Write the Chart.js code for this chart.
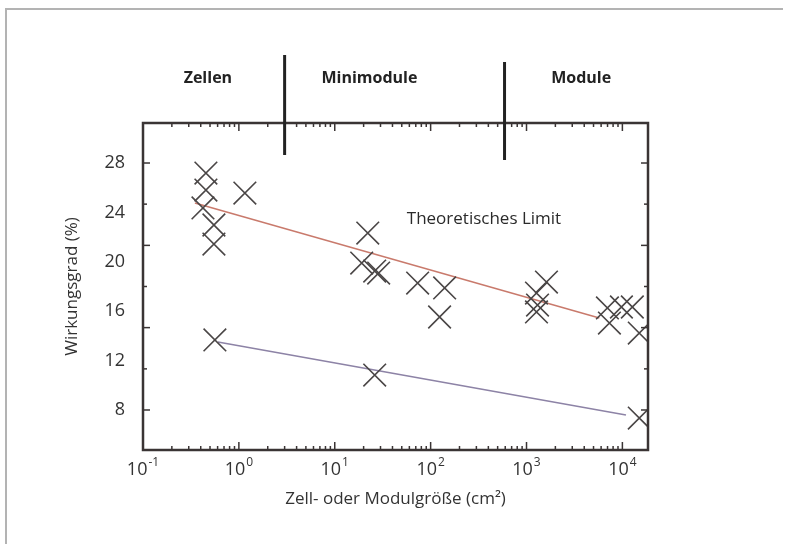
<!DOCTYPE html>
<html lang="de">
<head>
<meta charset="utf-8">
<title>Wirkungsgrad vs. Zell- oder Modulgröße</title>
<script src="https://cdn.jsdelivr.net/npm/chart.js@4.4.1/dist/chart.umd.min.js"></script>
<style>
    body { margin: 0; background: #fff; }
    .wrap { position: relative; width: 787px; height: 544px; overflow: hidden; }
    .edge { position: absolute; left: 5px; top: 8px; width: 776px; height: 600px;
            border-top: 2px solid #b3b3b3; border-left: 2px solid #b3b3b3; }
    canvas { position: absolute; left: 0; top: 0; }
</style>
</head>
<body>
<div class="wrap">
    <div class="edge"></div>
    <canvas id="effChart" width="787" height="544"></canvas>
</div>
<script>
// --- Daten ---
// Gemessene Wirkungsgrade: Fläche in cm² und Wirkungsgrad in %
const measuredSize = [0.453, 0.453, 0.422, 0.549, 0.549, 1.155, 0.562,
                      22.1, 19.1, 26.1, 28.7, 73.2, 140, 124, 26.1,
                      1271, 1615, 1303, 1271, 6980, 7325, 9770, 12700, 15000, 15000];
const measuredEff  = [27.19, 25.81, 24.36, 22.98, 21.44, 25.57, 13.67,
                      22.33, 19.9, 19.25, 19.09, 18.28, 17.88, 15.53, 10.83,
                      17.47, 18.36, 16.5, 15.94, 16.26, 15.04, 16.34, 16.34, 14.23, 7.35];

// Obere Gerade (theoretisches Limit) und untere Gerade
const limitSize = [0.348, 5750];
const limitEff  = [24.76, 15.45];
const lowerSize = [0.604, 10900];
const lowerEff  = [13.51, 7.6];

// Bereiche oberhalb des Diagramms
const regionNames   = ['Zellen', 'Minimodule', 'Module'];
const regionCenters = [0.475, 23, 3720];
const regionBounds  = [3.0, 590];

// Achsenbeschriftung
const yTickLabels = [8, 12, 16, 20, 24, 28];
const yFrameTicks = [8, 11.33, 14.67, 18, 21.33, 24.67, 28];
const xDecades    = [-1, 0, 1, 2, 3, 4];

const limitText = 'Theoretisches Limit';
const limitTextAt = { x: 360, y: 23.47 };

const toPoints = (xs, ys) => xs.map((v, i) => ({ x: v, y: ys[i] }));

Chart.defaults.font.family = '"Open Sans", sans-serif';
Chart.defaults.color = '#333';

// Rahmen, Innen-Ticks, Exponenten-Beschriftung und Bereichsnamen
const framePlugin = {
    id: 'frame',
    afterDraw(chart) {
        const { ctx, chartArea: a, scales: { x, y } } = chart;
        const line = (x1, y1, x2, y2) => { ctx.beginPath(); ctx.moveTo(x1, y1); ctx.lineTo(x2, y2); ctx.stroke(); };
        ctx.save();

        // Rahmen
        ctx.strokeStyle = '#3a3434';
        ctx.lineWidth = 2.5;
        ctx.strokeRect(a.left, a.top, a.right - a.left, a.bottom - a.top);

        // logarithmische Ticks innen (unten + oben)
        ctx.lineWidth = 1.5;
        xDecades.forEach(d => {
            for (let m = 1; m <= 9; m++) {
                const v = m * Math.pow(10, d);
                if (v <= x.min || v > x.max) continue;
                const px = x.getPixelForValue(v);
                const len = m === 1 ? 8 : 4;
                line(px, a.bottom, px, a.bottom - len);
                line(px, a.top, px, a.top + len);
            }
        });

        // y-Ticks innen (links + rechts)
        yFrameTicks.forEach((v, i) => {
            const py = y.getPixelForValue(v);
            const len = i % 2 === 0 ? 7 : 4;
            line(a.left, py, a.left + len, py);
            line(a.right, py, a.right - len, py);
        });

        // x-Beschriftung 10^n
        ctx.fillStyle = '#333';
        ctx.textBaseline = 'alphabetic';
        ctx.textAlign = 'left';
        xDecades.forEach(d => {
            const px = x.getPixelForValue(Math.pow(10, d));
            ctx.font = '18px "Open Sans"';
            const wBase = ctx.measureText('10').width;
            ctx.font = '12px "Open Sans"';
            const exp = String(d);
            const wExp = ctx.measureText(exp).width;
            const start = px - (wBase + 1 + wExp) / 2;
            ctx.font = '18px "Open Sans"';
            ctx.fillText('10', start, 475);
            ctx.font = '12px "Open Sans"';
            ctx.fillText(exp, start + wBase + 1, 466);
        });

        // Trennstriche zwischen den Bereichen
        ctx.strokeStyle = '#222';
        ctx.lineWidth = 3;
        const spans = [[55, 155], [62, 160]];
        regionBounds.forEach((v, i) => {
            const px = x.getPixelForValue(v);
            line(px, spans[i][0], px, spans[i][1]);
        });

        // Bereichsnamen
        ctx.font = 'bold 16px "Open Sans"';
        ctx.fillStyle = '#222';
        ctx.textAlign = 'center';
        ctx.textBaseline = 'middle';
        regionNames.forEach((name, i) => {
            ctx.fillText(name, x.getPixelForValue(regionCenters[i]), 78);
        });

        // Beschriftung "Theoretisches Limit"
        ctx.font = '17px "Open Sans"';
        ctx.fillStyle = '#2a2a2a';
        ctx.fillText(limitText, x.getPixelForValue(limitTextAt.x), y.getPixelForValue(limitTextAt.y));

        ctx.restore();
    }
};

document.addEventListener('DOMContentLoaded', function() {
    const ctx = document.getElementById('effChart').getContext('2d');
    new Chart(ctx, {
        type: 'scatter',
        data: {
            datasets: [
                {
                    label: 'Messwerte',
                    data: toPoints(measuredSize, measuredEff),
                    pointStyle: 'crossRot',
                    pointRadius: 16,
                    pointBorderColor: '#4a4646',
                    pointBorderWidth: 1.6,
                    pointBackgroundColor: 'transparent'
                },
                {
                    type: 'line',
                    label: limitText,
                    data: toPoints(limitSize, limitEff),
                    borderColor: '#c97a6c',
                    borderWidth: 1.5,
                    pointRadius: 0
                },
                {
                    type: 'line',
                    label: 'untere Gerade',
                    data: toPoints(lowerSize, lowerEff),
                    borderColor: '#8d83a6',
                    borderWidth: 1.5,
                    pointRadius: 0
                }
            ]
        },
        options: {
            responsive: false,
            animation: false,
            events: [],
            layout: { padding: { left: 50, right: 139, top: 123, bottom: 30 } },
            plugins: {
                legend: { display: false },
                tooltip: { enabled: false }
            },
            scales: {
                x: {
                    type: 'logarithmic',
                    min: 0.1,
                    max: 18500,
                    grid: { display: false },
                    border: { display: false },
                    ticks: { display: false },
                    title: {
                        display: true,
                        text: 'Zell- oder Modulgröße (cm²)',
                        font: { size: 17 },
                        padding: { top: 0, bottom: 5 }
                    },
                    afterFit: s => { s.height = 64; }
                },
                y: {
                    min: 4.76,
                    max: 31.24,
                    grid: { display: false },
                    border: { display: false },
                    afterBuildTicks: s => { s.ticks = yTickLabels.map(v => ({ value: v })); },
                    ticks: { padding: 10, font: { size: 18 }, color: '#333' },
                    title: {
                        display: true,
                        text: 'Wirkungsgrad (%)',
                        font: { size: 17 },
                        padding: { top: 12, bottom: 0 }
                    },
                    afterFit: s => { s.width = 93; }
                }
            }
        },
        plugins: [framePlugin]
    });
});
</script>
</body>
</html>
